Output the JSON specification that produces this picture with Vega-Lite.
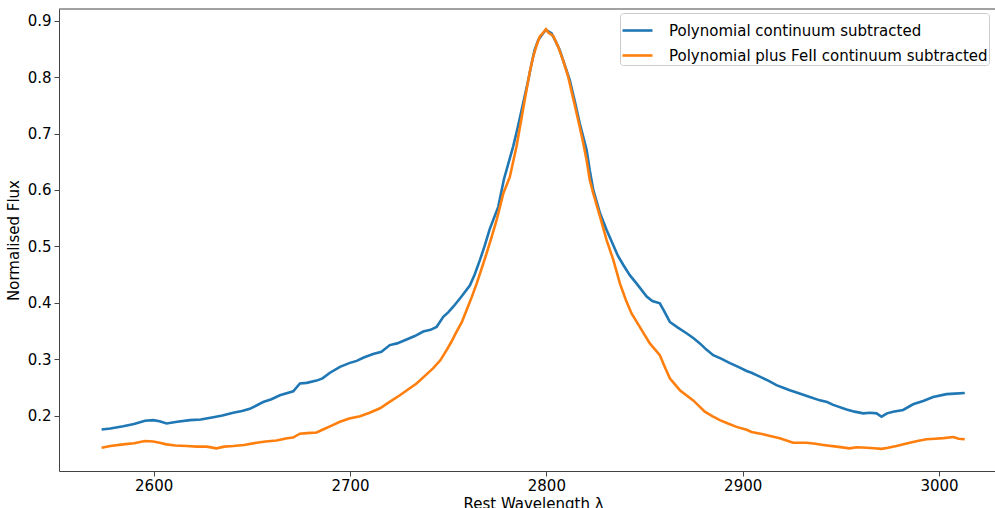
{
  "$schema": "https://vega.github.io/schema/vega-lite/v6.json",
  "autosize": {"type": "none"},
  "padding": {"left": 59, "top": 9, "right": 0, "bottom": 37},
  "width": 936,
  "height": 462,
  "background": "white",
  "config": {
    "view": {"stroke": null},
    "font": "DejaVu Sans",
    "axis": {
      "labelFont": "DejaVu Sans", "titleFont": "DejaVu Sans",
      "labelFontSize": 15, "titleFontSize": 15, "titleFontWeight": "normal",
      "labelColor": "black", "titleColor": "black",
      "domainColor": "#444", "tickColor": "#444", "domainWidth": 1, "tickWidth": 1,
      "tickSize": 5, "grid": false
    }
  },
  "layer": [
    {
      "data": {"values": [
        {"w":2573.5,"f":0.1755},{"w":2578,"f":0.177},{"w":2584.5,"f":0.181},{"w":2590,"f":0.185},{"w":2595.6,"f":0.191},{"w":2599.8,"f":0.192},{"w":2603,"f":0.19},{"w":2606.6,"f":0.186},{"w":2612,"f":0.189},{"w":2618.5,"f":0.192},{"w":2624,"f":0.193},{"w":2630.4,"f":0.197},{"w":2635,"f":0.2},{"w":2640.5,"f":0.205},{"w":2645,"f":0.208},{"w":2649,"f":0.212},{"w":2655.8,"f":0.224},{"w":2660,"f":0.229},{"w":2664.3,"f":0.236},{"w":2671.1,"f":0.243},{"w":2674.5,"f":0.257},{"w":2678,"f":0.258},{"w":2683,"f":0.262},{"w":2686,"f":0.266},{"w":2689.8,"f":0.276},{"w":2694.9,"f":0.2865},{"w":2699.6,"f":0.293},{"w":2703.4,"f":0.297},{"w":2707,"f":0.303},{"w":2711.8,"f":0.309},{"w":2716,"f":0.313},{"w":2720.3,"f":0.325},{"w":2724,"f":0.328},{"w":2728.8,"f":0.335},{"w":2733,"f":0.341},{"w":2737.3,"f":0.349},{"w":2741,"f":0.352},{"w":2744.1,"f":0.357},{"w":2747.5,"f":0.375},{"w":2750,"f":0.383},{"w":2752.6,"f":0.393},{"w":2756.8,"f":0.411},{"w":2761.1,"f":0.431},{"w":2763.5,"f":0.45},{"w":2766.2,"f":0.476},{"w":2768.5,"f":0.5},{"w":2771.2,"f":0.531},{"w":2775.5,"f":0.57},{"w":2778.4,"f":0.619},{"w":2781.4,"f":0.656},{"w":2783.1,"f":0.677},{"w":2785.5,"f":0.712},{"w":2788.2,"f":0.754},{"w":2790.5,"f":0.79},{"w":2792.5,"f":0.824},{"w":2794,"f":0.848},{"w":2795.9,"f":0.866},{"w":2798,"f":0.876},{"w":2799.8,"f":0.884},{"w":2801,"f":0.881},{"w":2802.6,"f":0.878},{"w":2804.5,"f":0.865},{"w":2806.8,"f":0.848},{"w":2809,"f":0.825},{"w":2811.9,"f":0.795},{"w":2814.5,"f":0.757},{"w":2817,"f":0.718},{"w":2820.5,"f":0.671},{"w":2822.1,"f":0.635},{"w":2823.9,"f":0.6},{"w":2827.3,"f":0.559},{"w":2830.7,"f":0.529},{"w":2834.1,"f":0.502},{"w":2836.5,"f":0.483},{"w":2839.2,"f":0.467},{"w":2842.5,"f":0.449},{"w":2846,"f":0.434},{"w":2851.1,"f":0.411},{"w":2854,"f":0.403},{"w":2857.8,"f":0.399},{"w":2860,"f":0.385},{"w":2862.9,"f":0.366},{"w":2867,"f":0.356},{"w":2871.4,"f":0.346},{"w":2875,"f":0.337},{"w":2878.2,"f":0.328},{"w":2881.5,"f":0.317},{"w":2885,"f":0.307},{"w":2889,"f":0.301},{"w":2893.5,"f":0.293},{"w":2898,"f":0.286},{"w":2902,"f":0.279},{"w":2904.5,"f":0.276},{"w":2908.7,"f":0.269},{"w":2913,"f":0.262},{"w":2917.2,"f":0.254},{"w":2921,"f":0.249},{"w":2924,"f":0.245},{"w":2928.2,"f":0.24},{"w":2934.2,"f":0.233},{"w":2939.3,"f":0.227},{"w":2943,"f":0.224},{"w":2946.1,"f":0.219},{"w":2952.9,"f":0.211},{"w":2957,"f":0.207},{"w":2961.4,"f":0.204},{"w":2965,"f":0.205},{"w":2968.2,"f":0.204},{"w":2970.7,"f":0.198},{"w":2973.5,"f":0.204},{"w":2976.6,"f":0.207},{"w":2981.7,"f":0.21},{"w":2986.8,"f":0.22},{"w":2991.9,"f":0.226},{"w":2997,"f":0.233},{"w":3003.8,"f":0.238},{"w":3008,"f":0.239},{"w":3013.1,"f":0.24}
      ]},
      "mark": {"type": "line", "strokeWidth": 2.6, "clip": true},
      "encoding": {
        "x": {"field": "w", "type": "quantitative",
          "scale": {"domain": [2551.8, 3028.5], "nice": false, "zero": false},
          "axis": {"values": [2600, 2700, 2800, 2900, 3000], "format": "d", "labelPadding": 2, "title": "Rest Wavelength λ", "titlePadding": 3, "titleX": 474, "titleAlign": "center"}},
        "y": {"field": "f", "type": "quantitative",
          "scale": {"domain": [0.1018, 0.9207], "nice": false, "zero": false},
          "axis": {"values": [0.2, 0.3, 0.4, 0.5, 0.6, 0.7, 0.8, 0.9], "format": ".1f", "labelPadding": 3, "title": "Normalised Flux", "titlePadding": 6}},
        "color": {"datum": "Polynomial continuum subtracted", "type": "nominal",
          "scale": {"domain": ["Polynomial continuum subtracted", "Polynomial plus FeII continuum subtracted"], "range": ["#1f77b4", "#ff7f0e"]},
          "legend": {"title": null, "orient": "none", "legendX": 561, "legendY": 4,
            "symbolType": "stroke", "symbolStrokeWidth": 2.6, "symbolSize": 900,
            "labelFont": "DejaVu Sans", "labelFontSize": 15, "labelColor": "black", "labelOffset": 15, "labelLimit": 500,
            "rowPadding": -7, "padding": 1, "fillColor": "white", "strokeColor": "#cccccc", "cornerRadius": 3}}
      }
    },
    {
      "data": {"values": [
        {"w":2573.5,"f":0.143},{"w":2578,"f":0.146},{"w":2584.5,"f":0.149},{"w":2590,"f":0.151},{"w":2595.6,"f":0.155},{"w":2599.8,"f":0.154},{"w":2603,"f":0.152},{"w":2606.6,"f":0.149},{"w":2611,"f":0.147},{"w":2616.8,"f":0.146},{"w":2622,"f":0.145},{"w":2627,"f":0.145},{"w":2632,"f":0.142},{"w":2636,"f":0.145},{"w":2640.5,"f":0.146},{"w":2646,"f":0.148},{"w":2652.5,"f":0.152},{"w":2657,"f":0.154},{"w":2662.6,"f":0.156},{"w":2668,"f":0.16},{"w":2671,"f":0.161},{"w":2674.5,"f":0.168},{"w":2678,"f":0.169},{"w":2683,"f":0.17},{"w":2686,"f":0.175},{"w":2689.8,"f":0.181},{"w":2694.9,"f":0.189},{"w":2699.6,"f":0.195},{"w":2705.1,"f":0.199},{"w":2710,"f":0.205},{"w":2715.3,"f":0.213},{"w":2720,"f":0.224},{"w":2725.4,"f":0.236},{"w":2729,"f":0.245},{"w":2733.9,"f":0.257},{"w":2738,"f":0.27},{"w":2742.4,"f":0.284},{"w":2746,"f":0.298},{"w":2749.2,"f":0.316},{"w":2751.5,"f":0.33},{"w":2754.3,"f":0.349},{"w":2757,"f":0.366},{"w":2759.4,"f":0.387},{"w":2762,"f":0.41},{"w":2764.5,"f":0.434},{"w":2767,"f":0.46},{"w":2769.6,"f":0.488},{"w":2772,"f":0.515},{"w":2774.7,"f":0.547},{"w":2778.1,"f":0.594},{"w":2781.4,"f":0.623},{"w":2784.8,"f":0.677},{"w":2787.5,"f":0.73},{"w":2789.9,"f":0.777},{"w":2791.5,"f":0.808},{"w":2793.3,"f":0.836},{"w":2795,"f":0.856},{"w":2796.7,"f":0.872},{"w":2798.5,"f":0.879},{"w":2799.8,"f":0.885},{"w":2801,"f":0.879},{"w":2803.5,"f":0.873},{"w":2806,"f":0.854},{"w":2808.5,"f":0.83},{"w":2811.1,"f":0.801},{"w":2813.5,"f":0.765},{"w":2816.2,"f":0.724},{"w":2818.5,"f":0.688},{"w":2820.5,"f":0.653},{"w":2822.1,"f":0.618},{"w":2823.9,"f":0.594},{"w":2827.3,"f":0.553},{"w":2830.7,"f":0.511},{"w":2834.1,"f":0.476},{"w":2837.5,"f":0.434},{"w":2840.5,"f":0.405},{"w":2843.4,"f":0.381},{"w":2848.5,"f":0.352},{"w":2852.7,"f":0.328},{"w":2857.8,"f":0.307},{"w":2860.5,"f":0.285},{"w":2862.9,"f":0.266},{"w":2868,"f":0.245},{"w":2874.8,"f":0.227},{"w":2880.7,"f":0.207},{"w":2884.5,"f":0.199},{"w":2888.4,"f":0.192},{"w":2892.5,"f":0.186},{"w":2896.9,"f":0.18},{"w":2902,"f":0.175},{"w":2904.5,"f":0.171},{"w":2910.4,"f":0.167},{"w":2914,"f":0.164},{"w":2918.9,"f":0.16},{"w":2925.7,"f":0.152},{"w":2932.5,"f":0.152},{"w":2937,"f":0.15},{"w":2941,"f":0.148},{"w":2947.8,"f":0.145},{"w":2954.5,"f":0.142},{"w":2958,"f":0.144},{"w":2963,"f":0.143},{"w":2967,"f":0.142},{"w":2970.7,"f":0.141},{"w":2974,"f":0.143},{"w":2978.3,"f":0.146},{"w":2985.1,"f":0.152},{"w":2989,"f":0.155},{"w":2993.6,"f":0.158},{"w":2998,"f":0.159},{"w":3002.3,"f":0.16},{"w":3007.3,"f":0.162},{"w":3010,"f":0.159},{"w":3013.1,"f":0.158}
      ]},
      "mark": {"type": "line", "strokeWidth": 2.6, "clip": true},
      "encoding": {
        "x": {"field": "w", "type": "quantitative"},
        "y": {"field": "f", "type": "quantitative"},
        "color": {"datum": "Polynomial plus FeII continuum subtracted", "type": "nominal"}
      }
    },
    {
      "data": {"values": [{"edge": "top"}]},
      "mark": {"type": "rule", "color": "#444", "strokeWidth": 1},
      "encoding": {"y": {"datum": 0.9207, "type": "quantitative"}}
    }
  ]
}
